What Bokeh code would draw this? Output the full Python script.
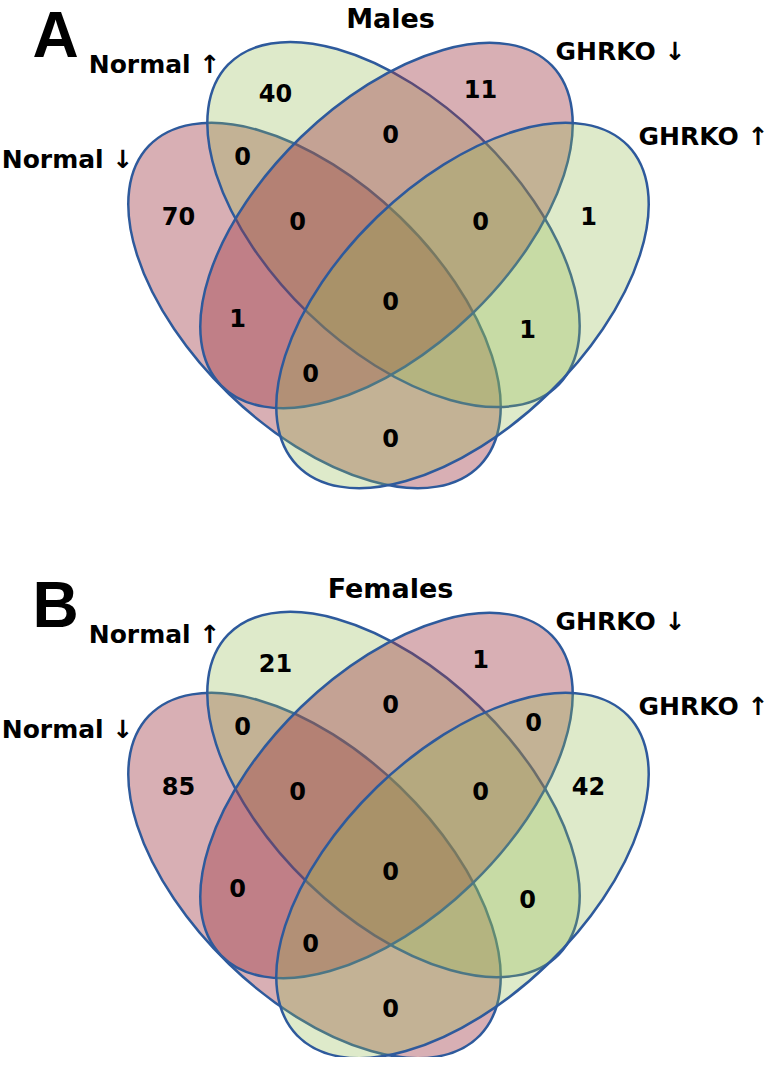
import math
from bokeh.plotting import figure
from bokeh.models import Range1d
from bokeh.core.properties import value
from bokeh.embed import file_html
from bokeh.resources import INLINE

# ---------------- data ----------------
set_names = ["Normal ↓", "Normal ↑", "GHRKO ↓", "GHRKO ↑"]
# region keys: membership flags for (Normal ↓, Normal ↑, GHRKO ↓, GHRKO ↑)
region_keys = ["1000", "0100", "0010", "0001",
               "1100", "0110", "0011",
               "1110", "0111", "1111",
               "1010", "0101", "1011", "1101", "1001"]
male_counts = [70, 40, 11, 1,
               0, 0, None,
               0, 0, 0,
               1, 1, 0, None, 0]
female_counts = [85, 21, 1, 42,
                 0, 0, 0,
                 0, 0, 0,
                 0, 0, 0, None, 0]
panel_letters = ["A", "B"]
panel_titles = ["Males", "Females"]
panel_counts = [male_counts, female_counts]

# ---------------- layout / style (picture pixel space) ----------------
ell_cx = [314, 393, 386, 462]
ell_cy = [305, 224, 225, 305]
ell_angle = [-44, -44, 44, 44]
SEMI_A, SEMI_B = 230, 123
pink, green = "#9E3744", "#91B94E"
ell_fill = [pink, green, pink, green]
ell_alpha = [0.40, 0.30, 0.40, 0.30]
OUTLINE = "#2E5A9C"

region_pos = {
    "1000": (178, 215), "0100": (275, 92), "0010": (480, 88), "0001": (588, 215),
    "1100": (242, 155), "0110": (390, 133), "0011": (533, 151),
    "1110": (297, 220), "0111": (480, 220), "1111": (390, 300),
    "1010": (237, 317), "0101": (527, 328), "1011": (310, 372),
    "1101": (468, 372), "1001": (390, 437),
}
set_label_pos = [(67, 159), (154, 64), (620, 51), (703, 136)]
title_pos = (390, 18)
letter_pos = (55, 34)
panel_shift = [0, 570]

FONT = value("DejaVu Sans")
W, H = 772, 1057

p = figure(width=W, height=H, x_range=Range1d(0, W), y_range=Range1d(-H, 0),
           output_backend="svg", toolbar_location=None, min_border=0,
           x_axis_location=None, y_axis_location=None)
p.grid.visible = False
p.outline_line_color = None
p.background_fill_color = "white"
p.border_fill_color = "white"

for k in range(2):
    dy = panel_shift[k]
    for i in range(4):
        p.ellipse(x=[ell_cx[i]], y=[-(ell_cy[i] + dy)], width=2 * SEMI_A, height=2 * SEMI_B,
                  angle=math.radians(ell_angle[i]), fill_color=ell_fill[i],
                  fill_alpha=ell_alpha[i], line_color=OUTLINE, line_width=2.5)
    xs, ys, ts = [], [], []
    for key, cnt in zip(region_keys, panel_counts[k]):
        if cnt is None:
            continue
        x, y = region_pos[key]
        xs.append(x); ys.append(-(y + dy)); ts.append(str(cnt))
    p.text(x=xs, y=ys, text=ts, text_font=FONT, text_font_style="bold",
           text_font_size="24px", text_align="center", text_baseline="middle",
           text_color="black")
    p.text(x=[q[0] for q in set_label_pos], y=[-(q[1] + dy) for q in set_label_pos],
           text=set_names, text_font=FONT, text_font_style="bold",
           text_font_size="25px", text_align="center", text_baseline="middle",
           text_color="black")
    p.text(x=[title_pos[0]], y=[-(title_pos[1] + dy)], text=[panel_titles[k]],
           text_font=FONT, text_font_style="bold", text_font_size="27px",
           text_align="center", text_baseline="middle", text_color="black")
    p.text(x=[letter_pos[0]], y=[-(letter_pos[1] + dy)], text=[panel_letters[k]],
           text_font=value("Liberation Sans"), text_font_style="bold",
           text_font_size="64px", text_align="center", text_baseline="middle",
           text_color="black")

open("out.html", "w").write(file_html(p, INLINE))
